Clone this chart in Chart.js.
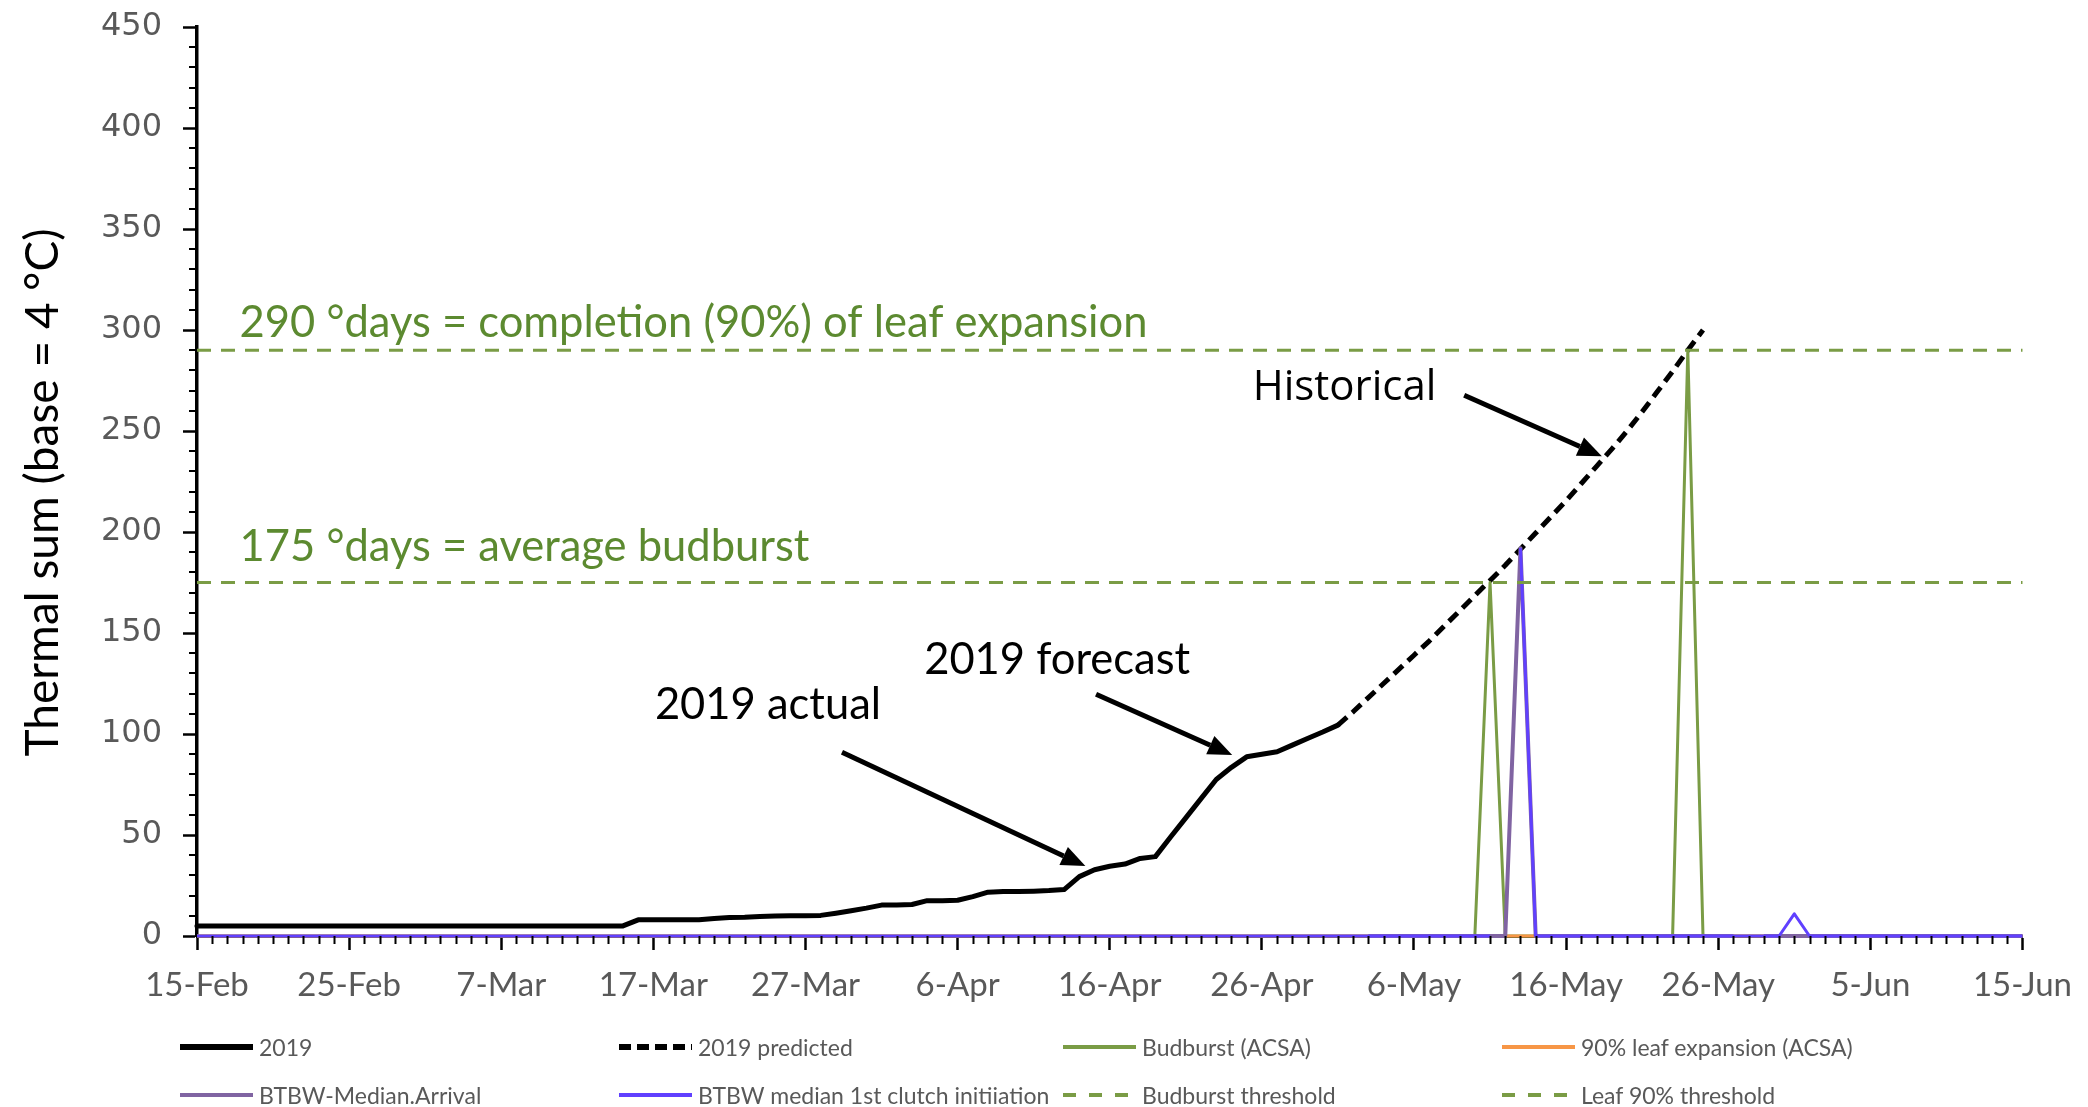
<!DOCTYPE html>
<html>
<head>
<meta charset="utf-8">
<script src="https://cdn.jsdelivr.net/npm/chart.js@4.4.1/dist/chart.umd.min.js"></script>
<style>
  html, body { margin: 0; padding: 0; background: #fff; }
  #wrap { position: relative; width: 2088px; height: 1107px; overflow: hidden; }
  #c { position: absolute; left: 0; top: 0; }
  #legend { position: absolute; left: 0; top: 0; width: 2088px; height: 1107px; pointer-events: none;
            font-family: Lato, sans-serif; font-size: 23px; color: #595959; }
  .item { position: absolute; display: flex; align-items: center; white-space: nowrap; transform: translateY(-50%); }
  .item svg { margin-right: 6px; display: block; }
</style>
</head>
<body>
<div id="wrap">
  <canvas id="c" width="2088" height="1107"></canvas>
  <div id="legend"></div>
</div>
<script>
// ---------------- DATA ----------------
const categories = [
  '15-Feb','16-Feb','17-Feb','18-Feb','19-Feb','20-Feb','21-Feb','22-Feb','23-Feb','24-Feb','25-Feb','26-Feb','27-Feb','28-Feb',
  '1-Mar','2-Mar','3-Mar','4-Mar','5-Mar','6-Mar','7-Mar','8-Mar','9-Mar','10-Mar','11-Mar','12-Mar','13-Mar','14-Mar','15-Mar','16-Mar',
  '17-Mar','18-Mar','19-Mar','20-Mar','21-Mar','22-Mar','23-Mar','24-Mar','25-Mar','26-Mar','27-Mar','28-Mar','29-Mar','30-Mar','31-Mar',
  '1-Apr','2-Apr','3-Apr','4-Apr','5-Apr','6-Apr','7-Apr','8-Apr','9-Apr','10-Apr','11-Apr','12-Apr','13-Apr','14-Apr','15-Apr',
  '16-Apr','17-Apr','18-Apr','19-Apr','20-Apr','21-Apr','22-Apr','23-Apr','24-Apr','25-Apr','26-Apr','27-Apr','28-Apr','29-Apr','30-Apr',
  '1-May','2-May','3-May','4-May','5-May','6-May','7-May','8-May','9-May','10-May','11-May','12-May','13-May','14-May','15-May',
  '16-May','17-May','18-May','19-May','20-May','21-May','22-May','23-May','24-May','25-May','26-May','27-May','28-May','29-May','30-May','31-May',
  '1-Jun','2-Jun','3-Jun','4-Jun','5-Jun','6-Jun','7-Jun','8-Jun','9-Jun','10-Jun','11-Jun','12-Jun','13-Jun','14-Jun','15-Jun'
];
const xTickLabels = ['15-Feb','25-Feb','7-Mar','17-Mar','27-Mar','6-Apr','16-Apr','26-Apr','6-May','16-May','26-May','5-Jun','15-Jun'];
const yTickLabels = [0, 50, 100, 150, 200, 250, 300, 350, 400, 450];

// 2019 actual thermal sum, daily from 15-Feb
const actual2019Start = '15-Feb';
const actual2019 = [
  5,5,5,5,5,5,5,5,5,5, 5,5,5,5,5,5,5,5,5,5, 5,5,5,5,5,5,5,5,5,
  8,8,8,8,8,
  8.7,9.2,9.3,9.6,9.9,10,10,10.2,11.3,12.5,13.8,15.3,15.3,15.6,17.5,17.5,17.7,19.5,21.7,22,
  22,22.2,22.5,23,29.4,32.8,34.5,35.6,38.4,39.3,49,58.5,68,77.5,83.5,88.7,90,91.2,94.5,97.8,
  101,104.4
];
// 2019 predicted (historical average), daily from 1-May
const predicted2019Start = '1-May';
const predicted2019 = [
  104.4,111,118,125,132,139,146,153.5,161,168.5,176,183.5,191.5,199.5,207.5,215.5,224,232.5,241,250,
  259.5,269.5,279.5,290,300
];
// Event markers (zero elsewhere)
const budburstACSA = { '10-May': 0, '11-May': 175, '12-May': 0, '23-May': 0, '24-May': 290, '25-May': 0 };
const leafExpansionACSA = {};
const btbwArrivalStart = '3-May';
const btbwArrival = [
  0,0,0,0,0,0,0,0,0,0, 192, 0,0,0,0,0,0,0,0,0,0,0,0,0,0, null,
  0,0,0,0,0,0,0,0,0,0,0,0,0,0,0,0,0,0
];
const btbwClutch = { '12-May': null, '13-May': 192, '31-May': 11 };
const budburstThreshold = 175;
const leafThreshold = 290;

// ---------------- BUILD ----------------
const N = categories.length;
function fromStart(startLabel, values) {
  const out = new Array(N).fill(null);
  const s = categories.indexOf(startLabel);
  values.forEach((v, k) => { out[s + k] = v; });
  return out;
}
function fromPoints(points) {
  return categories.map(c => (c in points) ? points[c] : 0);
}

const GREEN = '#7A9C45';
const seriesDefs = [
  { label: '2019', data: fromStart(actual2019Start, actual2019), color: '#000000', width: 5, dash: [] , lw: 6},
  { label: '2019 predicted', data: fromStart(predicted2019Start, predicted2019), color: '#000000', width: 5, dash: [12, 7], lw: 6, ldash: '12 6' },
  { label: 'Budburst (ACSA)', data: fromPoints(budburstACSA), color: GREEN, width: 3, dash: [], lw: 4 },
  { label: '90% leaf expansion (ACSA)', data: fromPoints(leafExpansionACSA), color: '#F79646', width: 3, dash: [], lw: 4 },
  { label: 'BTBW-Median.Arrival', data: fromStart(btbwArrivalStart, btbwArrival), color: '#8064A2', width: 4, dash: [], lw: 4 },
  { label: 'BTBW median 1st clutch initiiation', data: fromPoints(btbwClutch), color: '#6040FF', width: 3, dash: [], lw: 4 },
  { label: 'Budburst threshold', data: categories.map(() => budburstThreshold), color: GREEN, width: 3, dash: [14, 10], lw: 4, ldash: '13 13' },
  { label: 'Leaf 90% threshold', data: categories.map(() => leafThreshold), color: GREEN, width: 3, dash: [14, 10], lw: 4, ldash: '13 13' }
];

const datasets = seriesDefs.map((s, k) => ({
  label: s.label,
  data: s.data,
  borderColor: s.color,
  backgroundColor: s.color,
  borderWidth: s.width,
  borderDash: s.dash,
  borderJoinStyle: 'round',
  borderCapStyle: k === 0 ? 'round' : 'butt',
  pointRadius: 0,
  tension: 0,
  fill: false,
  spanGaps: false,
  clip: false,
  order: seriesDefs.length - 1 - k
}));

// Annotations in data coordinates [category index, value]
const annotationTexts = [
  { text: '290 °days = completion (90%) of leaf expansion', at: [2.8, 296.4], color: '#5C8A30', font: '43.5px Lato' },
  { text: '175 °days = average budburst', at: [2.8, 185.6], color: '#5C8A30', font: '43.5px Lato' },
  { text: 'Historical', at: [69.4, 265.2], color: '#000000', font: '42px "Open Sans"' },
  { text: '2019 forecast', at: [47.8, 129.6], color: '#000000', font: '43.5px Lato' },
  { text: '2019 actual', at: [30.1, 107.4], color: '#000000', font: '43.5px Lato' }
];
const annotationArrows = [
  { from: [83.3, 267.7], to: [92.35, 237.5] },
  { from: [59.1, 119.7], to: [68.05, 89.6] },
  { from: [42.4, 91.0], to: [58.4, 34.6] }
];

const overlayPlugin = {
  id: 'overlay',
  afterDatasetsDraw(chart) {
    const ctx = chart.ctx;
    const xs = chart.scales.x, ys = chart.scales.y;
    const area = chart.chartArea;
    ctx.save();
    // minor ticks
    ctx.strokeStyle = '#000';
    ctx.lineWidth = 2;
    ctx.beginPath();
    for (let i = 0; i < N; i++) {
      if (xTickLabels.includes(categories[i])) continue;
      const x = Math.round(xs.getPixelForValue(i)) + 0.5;
      ctx.moveTo(x, area.bottom);
      ctx.lineTo(x, area.bottom + 8);
    }
    for (let v = 0; v <= 450; v += 10) {
      if (yTickLabels.includes(v)) continue;
      const y = Math.round(ys.getPixelForValue(v));
      ctx.moveTo(area.left - 8, y);
      ctx.lineTo(area.left, y);
    }
    ctx.stroke();

    // arrows
    annotationArrows.forEach(a => {
      const x1 = xs.getPixelForValue(a.from[0]), y1 = ys.getPixelForValue(a.from[1]);
      const x2 = xs.getPixelForValue(a.to[0]), y2 = ys.getPixelForValue(a.to[1]);
      const ang = Math.atan2(y2 - y1, x2 - x1);
      const hl = 24, hw = 10;
      const bx = x2 - hl * Math.cos(ang), by = y2 - hl * Math.sin(ang);
      ctx.strokeStyle = '#000';
      ctx.lineWidth = 5;
      ctx.lineCap = 'butt';
      ctx.beginPath();
      ctx.moveTo(x1, y1);
      ctx.lineTo(bx, by);
      ctx.stroke();
      ctx.fillStyle = '#000';
      ctx.beginPath();
      ctx.moveTo(x2, y2);
      ctx.lineTo(bx + hw * Math.sin(ang), by - hw * Math.cos(ang));
      ctx.lineTo(bx - hw * Math.sin(ang), by + hw * Math.cos(ang));
      ctx.closePath();
      ctx.fill();
    });

    // texts
    ctx.textAlign = 'left';
    ctx.textBaseline = 'alphabetic';
    annotationTexts.forEach(t => {
      ctx.font = t.font;
      ctx.fillStyle = t.color;
      ctx.fillText(t.text, xs.getPixelForValue(t.at[0]), ys.getPixelForValue(t.at[1]));
    });

    // y axis title
    ctx.translate(43, (area.top + area.bottom) / 2 + 11);
    ctx.rotate(-Math.PI / 2);
    ctx.font = '46px Lato';
    ctx.fillStyle = '#000';
    ctx.textAlign = 'center';
    ctx.textBaseline = 'middle';
    ctx.fillText('Thermal sum (base = 4 °C)', 0, 0);
    ctx.restore();
  }
};

const chart = new Chart(document.getElementById('c'), {
  type: 'line',
  data: { labels: categories, datasets },
  options: {
    responsive: false,
    animation: false,
    devicePixelRatio: 1,
    layout: { padding: { left: 0, top: 27, right: 64, bottom: 0 } },
    plugins: { legend: { display: false }, tooltip: { enabled: false } },
    scales: {
      x: {
        type: 'category',
        offset: false,
        grid: {
          drawOnChartArea: false,
          tickLength: 14,
          tickWidth: 2.5,
          tickColor: c => (xTickLabels.includes(categories[c.index]) ? '#000' : 'rgba(0,0,0,0)')
        },
        border: { color: '#000', width: 3 },
        ticks: {
          autoSkip: false, maxRotation: 0, minRotation: 0, padding: 16,
          color: '#595959', font: { family: 'Lato', size: 33 },
          callback: (v, i) => (xTickLabels.includes(categories[i]) ? categories[i] : '')
        },
        afterFit: s => { s.height = 171; }
      },
      y: {
        min: 0, max: 450,
        grid: {
          drawOnChartArea: false,
          tickLength: 14,
          tickWidth: 2.5,
          tickColor: c => (yTickLabels.includes(c.tick.value) ? '#000' : 'rgba(0,0,0,0)')
        },
        border: { color: '#000', width: 3.5 },
        ticks: {
          stepSize: 10, autoSkip: false, padding: 21,
          color: '#595959', font: { family: 'DejaVu Sans', size: 32 },
          callback: v => (yTickLabels.includes(v) ? String(v) : '')
        },
        afterFit: s => { s.width = 197; s.paddingTop = 0; s.paddingBottom = 0; }
      }
    }
  },
  plugins: [overlayPlugin]
});

// ---------------- HTML LEGEND ----------------
const legendCols = [180, 619, 1063, 1502];
const legendRows = [1047, 1095];
const legendEl = document.getElementById('legend');
seriesDefs.forEach((s, k) => {
  const div = document.createElement('div');
  div.className = 'item';
  div.style.left = legendCols[k % 4] + 'px';
  div.style.top = legendRows[Math.floor(k / 4)] + 'px';
  const dash = s.ldash ? ` stroke-dasharray="${s.ldash}"` : '';
  div.innerHTML = `<svg width="73" height="10"><line x1="0" y1="5" x2="73" y2="5" stroke="${s.color}" stroke-width="${s.lw}"${dash}/></svg><span>${s.label}</span>`;
  legendEl.appendChild(div);
});
</script>
</body>
</html>
